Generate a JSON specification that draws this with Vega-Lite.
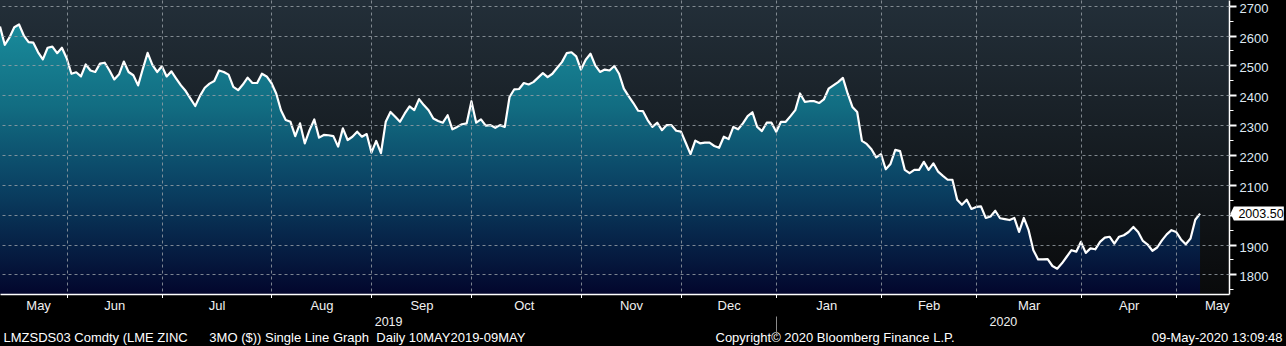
{
"$schema": "https://vega.github.io/schema/vega-lite/v6.json",
"width": 1229, "height": 294,
"autosize": {"type": "none"},
"padding": {"left": 0, "top": 0, "right": 57, "bottom": 52},
"background": "#000000",
"config": {
  "view": {"stroke": null, "fill": {"gradient": "linear", "x1": 0, "y1": 0, "x2": 0, "y2": 1, "stops": [{"offset": 0, "color": "#232f39"}, {"offset": 1, "color": "#090a0b"}]}},
  "font": "Liberation Sans",
  "axis": {"labelFont": "Liberation Sans", "titleFont": "Liberation Sans", "labelFlush": false, "labelOverlap": false, "labelBound": false, "titleFontWeight": "normal"}
},
"data": {"values": [
{"date":"2019-05-10","close":2630},{"date":"2019-05-13","close":2569},{"date":"2019-05-14","close":2594},{"date":"2019-05-15","close":2628},{"date":"2019-05-16","close":2637},{"date":"2019-05-17","close":2600},{"date":"2019-05-20","close":2578},{"date":"2019-05-21","close":2576},{"date":"2019-05-22","close":2544},{"date":"2019-05-23","close":2520},{"date":"2019-05-24","close":2559},{"date":"2019-05-28","close":2563},{"date":"2019-05-29","close":2541},{"date":"2019-05-30","close":2559},{"date":"2019-05-31","close":2524},
{"date":"2019-06-03","close":2472},{"date":"2019-06-04","close":2477},{"date":"2019-06-05","close":2463},{"date":"2019-06-06","close":2503},{"date":"2019-06-07","close":2483},{"date":"2019-06-10","close":2478},{"date":"2019-06-11","close":2506},{"date":"2019-06-12","close":2509},{"date":"2019-06-13","close":2483},{"date":"2019-06-14","close":2453},{"date":"2019-06-17","close":2470},{"date":"2019-06-18","close":2513},{"date":"2019-06-19","close":2478},{"date":"2019-06-20","close":2467},{"date":"2019-06-21","close":2433},{"date":"2019-06-24","close":2489},{"date":"2019-06-25","close":2542},{"date":"2019-06-26","close":2502},{"date":"2019-06-27","close":2478},{"date":"2019-06-28","close":2497},
{"date":"2019-07-01","close":2463},{"date":"2019-07-02","close":2480},{"date":"2019-07-03","close":2456},{"date":"2019-07-04","close":2433},{"date":"2019-07-05","close":2414},{"date":"2019-07-08","close":2389},{"date":"2019-07-09","close":2364},{"date":"2019-07-10","close":2398},{"date":"2019-07-11","close":2425},{"date":"2019-07-12","close":2439},{"date":"2019-07-15","close":2448},{"date":"2019-07-16","close":2483},{"date":"2019-07-17","close":2478},{"date":"2019-07-18","close":2469},{"date":"2019-07-19","close":2428},{"date":"2019-07-22","close":2417},{"date":"2019-07-23","close":2436},{"date":"2019-07-24","close":2459},{"date":"2019-07-25","close":2441},{"date":"2019-07-26","close":2441},{"date":"2019-07-29","close":2472},{"date":"2019-07-30","close":2463},{"date":"2019-07-31","close":2441},
{"date":"2019-08-01","close":2406},{"date":"2019-08-02","close":2350},{"date":"2019-08-05","close":2317},{"date":"2019-08-06","close":2311},{"date":"2019-08-07","close":2263},{"date":"2019-08-08","close":2306},{"date":"2019-08-09","close":2239},{"date":"2019-08-12","close":2283},{"date":"2019-08-13","close":2319},{"date":"2019-08-14","close":2258},{"date":"2019-08-15","close":2267},{"date":"2019-08-16","close":2266},{"date":"2019-08-19","close":2263},{"date":"2019-08-20","close":2228},{"date":"2019-08-21","close":2289},{"date":"2019-08-22","close":2250},{"date":"2019-08-23","close":2261},{"date":"2019-08-27","close":2278},{"date":"2019-08-28","close":2261},{"date":"2019-08-29","close":2270},{"date":"2019-08-30","close":2208},
{"date":"2019-09-02","close":2247},{"date":"2019-09-03","close":2206},{"date":"2019-09-04","close":2311},{"date":"2019-09-05","close":2344},{"date":"2019-09-06","close":2328},{"date":"2019-09-09","close":2311},{"date":"2019-09-10","close":2339},{"date":"2019-09-11","close":2363},{"date":"2019-09-12","close":2350},{"date":"2019-09-13","close":2387},{"date":"2019-09-16","close":2367},{"date":"2019-09-17","close":2350},{"date":"2019-09-18","close":2322},{"date":"2019-09-19","close":2314},{"date":"2019-09-20","close":2308},{"date":"2019-09-23","close":2333},{"date":"2019-09-24","close":2286},{"date":"2019-09-25","close":2294},{"date":"2019-09-26","close":2303},{"date":"2019-09-27","close":2306},{"date":"2019-09-30","close":2380},
{"date":"2019-10-01","close":2308},{"date":"2019-10-02","close":2319},{"date":"2019-10-03","close":2298},{"date":"2019-10-04","close":2300},{"date":"2019-10-07","close":2291},{"date":"2019-10-08","close":2300},{"date":"2019-10-09","close":2294},{"date":"2019-10-10","close":2394},{"date":"2019-10-11","close":2420},{"date":"2019-10-14","close":2421},{"date":"2019-10-15","close":2441},{"date":"2019-10-16","close":2436},{"date":"2019-10-17","close":2444},{"date":"2019-10-18","close":2459},{"date":"2019-10-21","close":2474},{"date":"2019-10-22","close":2461},{"date":"2019-10-23","close":2472},{"date":"2019-10-24","close":2492},{"date":"2019-10-25","close":2511},{"date":"2019-10-28","close":2541},{"date":"2019-10-29","close":2544},{"date":"2019-10-30","close":2530},{"date":"2019-10-31","close":2486},
{"date":"2019-11-01","close":2519},{"date":"2019-11-04","close":2539},{"date":"2019-11-05","close":2500},{"date":"2019-11-06","close":2478},{"date":"2019-11-07","close":2486},{"date":"2019-11-08","close":2483},{"date":"2019-11-11","close":2498},{"date":"2019-11-12","close":2472},{"date":"2019-11-13","close":2422},{"date":"2019-11-14","close":2397},{"date":"2019-11-15","close":2374},{"date":"2019-11-18","close":2348},{"date":"2019-11-19","close":2347},{"date":"2019-11-20","close":2317},{"date":"2019-11-21","close":2294},{"date":"2019-11-22","close":2308},{"date":"2019-11-25","close":2283},{"date":"2019-11-26","close":2300},{"date":"2019-11-27","close":2300},{"date":"2019-11-28","close":2281},{"date":"2019-11-29","close":2278},
{"date":"2019-12-02","close":2241},{"date":"2019-12-03","close":2203},{"date":"2019-12-04","close":2248},{"date":"2019-12-05","close":2239},{"date":"2019-12-06","close":2241},{"date":"2019-12-09","close":2241},{"date":"2019-12-10","close":2230},{"date":"2019-12-11","close":2224},{"date":"2019-12-12","close":2261},{"date":"2019-12-13","close":2253},{"date":"2019-12-16","close":2294},{"date":"2019-12-17","close":2286},{"date":"2019-12-18","close":2306},{"date":"2019-12-19","close":2330},{"date":"2019-12-20","close":2343},{"date":"2019-12-23","close":2294},{"date":"2019-12-24","close":2280},{"date":"2019-12-27","close":2308},{"date":"2019-12-30","close":2308},{"date":"2019-12-31","close":2278},
{"date":"2020-01-02","close":2311},{"date":"2020-01-03","close":2311},{"date":"2020-01-06","close":2330},{"date":"2020-01-07","close":2350},{"date":"2020-01-08","close":2406},{"date":"2020-01-09","close":2378},{"date":"2020-01-10","close":2380},{"date":"2020-01-13","close":2380},{"date":"2020-01-14","close":2374},{"date":"2020-01-15","close":2386},{"date":"2020-01-16","close":2422},{"date":"2020-01-17","close":2433},{"date":"2020-01-20","close":2444},{"date":"2020-01-21","close":2458},{"date":"2020-01-22","close":2406},{"date":"2020-01-23","close":2361},{"date":"2020-01-24","close":2344},{"date":"2020-01-27","close":2247},{"date":"2020-01-28","close":2237},{"date":"2020-01-29","close":2219},{"date":"2020-01-30","close":2192},{"date":"2020-01-31","close":2203},
{"date":"2020-02-03","close":2152},{"date":"2020-02-04","close":2170},{"date":"2020-02-05","close":2217},{"date":"2020-02-06","close":2213},{"date":"2020-02-07","close":2150},{"date":"2020-02-10","close":2139},{"date":"2020-02-11","close":2150},{"date":"2020-02-12","close":2150},{"date":"2020-02-13","close":2177},{"date":"2020-02-14","close":2150},{"date":"2020-02-17","close":2172},{"date":"2020-02-18","close":2144},{"date":"2020-02-19","close":2130},{"date":"2020-02-20","close":2117},{"date":"2020-02-21","close":2117},{"date":"2020-02-24","close":2050},{"date":"2020-02-25","close":2033},{"date":"2020-02-26","close":2050},{"date":"2020-02-27","close":2019},{"date":"2020-02-28","close":2026},
{"date":"2020-03-02","close":2028},{"date":"2020-03-03","close":1989},{"date":"2020-03-04","close":1994},{"date":"2020-03-05","close":2013},{"date":"2020-03-06","close":1988},{"date":"2020-03-09","close":1985},{"date":"2020-03-10","close":1982},{"date":"2020-03-11","close":1989},{"date":"2020-03-12","close":1942},{"date":"2020-03-13","close":1989},{"date":"2020-03-16","close":1948},{"date":"2020-03-17","close":1881},{"date":"2020-03-18","close":1850},{"date":"2020-03-19","close":1850},{"date":"2020-03-20","close":1851},{"date":"2020-03-23","close":1828},{"date":"2020-03-24","close":1819},{"date":"2020-03-25","close":1837},{"date":"2020-03-26","close":1859},{"date":"2020-03-27","close":1881},{"date":"2020-03-30","close":1876},{"date":"2020-03-31","close":1909},
{"date":"2020-04-01","close":1872},{"date":"2020-04-02","close":1887},{"date":"2020-04-03","close":1884},{"date":"2020-04-06","close":1909},{"date":"2020-04-07","close":1923},{"date":"2020-04-08","close":1926},{"date":"2020-04-09","close":1903},{"date":"2020-04-14","close":1926},{"date":"2020-04-15","close":1931},{"date":"2020-04-16","close":1942},{"date":"2020-04-17","close":1959},{"date":"2020-04-20","close":1942},{"date":"2020-04-21","close":1912},{"date":"2020-04-22","close":1900},{"date":"2020-04-23","close":1879},{"date":"2020-04-24","close":1890},{"date":"2020-04-27","close":1914},{"date":"2020-04-28","close":1934},{"date":"2020-04-29","close":1948},{"date":"2020-04-30","close":1942},
{"date":"2020-05-01","close":1917},{"date":"2020-05-04","close":1901},{"date":"2020-05-05","close":1920},{"date":"2020-05-06","close":1983},{"date":"2020-05-07","close":2003.5}
]},
"transform": [
  {"window": [{"op": "row_number", "as": "n"}], "sort": [{"field": "date"}]},
  {"joinaggregate": [{"op": "max", "field": "n", "as": "last"}]}
],
"layer": [
  {
    "mark": {"type": "area", "line": false, "fill": {"gradient": "linear", "x1": 0, "y1": 0, "x2": 0, "y2": 1, "stops": [{"offset": 0, "color": "#198b9b"}, {"offset": 0.3, "color": "#126d82"}, {"offset": 0.6, "color": "#0a4163"}, {"offset": 1, "color": "#03062d"}]}},
    "encoding": {
      "x": {"field": "n", "type": "quantitative", "scale": {"domain": [1, 259.08], "nice": false, "zero": false},
        "axis": {"orient": "bottom", "values": [15, 35, 58, 79, 100, 123, 144, 164, 186, 206, 228, 248], "labels": false, "grid": true, "gridColor": "#9aa1a8", "gridDash": [3, 3], "gridWidth": 1, "gridOpacity": 0.8, "ticks": true, "tickColor": "#ffffff", "tickSize": 3.5, "tickWidth": 1, "domain": true, "domainColor": "#ffffff", "domainWidth": 1.5, "zindex": 1,
          "title": "LMZSDS03 Comdty (LME ZINC\u00a0\u00a0\u00a0\u00a0\u00a0 3MO ($)) Single Line Graph\u00a0 Daily 10MAY2019-09MAY", "titleX": 3, "titleY": 47.7, "titleAlign": "left", "titleBaseline": "alphabetic", "titleFontSize": 13, "titleColor": "#ffffff"}},
      "y": {"field": "close", "type": "quantitative", "scale": {"domain": [1734.2, 2719.1], "nice": false, "zero": false},
        "axis": {"orient": "right", "values": [1800, 1900, 2000, 2100, 2200, 2300, 2400, 2500, 2600, 2700], "labels": false, "ticks": false, "domain": false, "grid": true, "gridColor": "#9aa1a8", "gridDash": [3, 3], "gridWidth": 1, "gridOpacity": 0.8, "zindex": 1, "title": null}},
      "y2": {"datum": 1734.2}
    }
  },
  {
    "mark": {"type": "line", "color": "#ffffff", "strokeWidth": 2.2, "strokeJoin": "round"},
    "encoding": {
      "x": {"field": "n", "type": "quantitative", "scale": {"domain": [1, 259.08], "nice": false, "zero": false},
        "axis": {"orient": "bottom", "values": [9, 25, 46.5, 68.5, 89.5, 111, 133.5, 154, 174.5, 196, 217, 238, 256.5],
          "labelExpr": "['May','Jun','Jul','Aug','Sep','Oct','Nov','Dec','Jan','Feb','Mar','Apr','May'][indexof([9, 25, 46.5, 68.5, 89.5, 111, 133.5, 154, 174.5, 196, 217, 238, 256.5], datum.value)]",
          "grid": false, "ticks": false, "tickSize": 0, "domain": false, "labelPadding": 15, "labelBaseline": "alphabetic", "labelAlign": "center", "labelFontSize": 13, "labelColor": "#f0f0f0",
          "title": "Copyright\u00a9 2020 Bloomberg Finance L.P.", "titleX": 715, "titleY": 47.7, "titleAlign": "left", "titleBaseline": "alphabetic", "titleFontSize": 13, "titleColor": "#ffffff"}},
      "y": {"field": "close", "type": "quantitative", "scale": {"domain": [1734.2, 2719.1], "nice": false, "zero": false},
        "axis": {"orient": "right", "values": [1750, 1800, 1850, 1900, 1950, 2000, 2050, 2100, 2150, 2200, 2250, 2300, 2350, 2400, 2450, 2500, 2550, 2600, 2650, 2700],
          "grid": false, "domain": true, "domainColor": "#ffffff", "domainWidth": 1.5, "ticks": true, "tickColor": "#ffffff",
          "tickSize": {"condition": {"test": "datum.value % 100 === 0", "value": 7}, "value": 4},
          "tickWidth": {"condition": {"test": "datum.value % 100 === 0", "value": 2}, "value": 1},
          "format": "d", "labelExpr": "datum.value % 100 === 0 && datum.value !== 2000 ? datum.label : ''", "labelPadding": 3, "labelOffset": 2.5, "labelBaseline": "middle", "labelFontSize": 13, "labelColor": "#dfe8f2",
          "title": "09-May-2020 13:09:48", "titleAngle": 0, "titleX": 53, "titleY": 341.7, "titleAlign": "right", "titleBaseline": "alphabetic", "titleFontSize": 13, "titleColor": "#ffffff", "zindex": 0}}
    }
  },
  {
    "transform": [{"filter": "datum.n === datum.last"}],
    "mark": {"type": "point", "shape": "M -1 0 L -0.876 -0.263 L 1 -0.263 L 1 0.263 L -0.876 0.263 Z", "filled": true, "fill": "#ffffff", "opacity": 1, "size": 2841, "strokeWidth": 0},
    "encoding": {
      "x": {"datum": 265.0, "type": "quantitative", "scale": {"domain": [1, 259.08], "nice": false, "zero": false},
        "axis": {"orient": "bottom", "values": [82.5, 164, 211.6], "labelExpr": "datum.value === 82.5 ? '2019' : (datum.value === 211.6 ? '2020' : '')", "offset": 22, "domain": false, "grid": false, "ticks": true, "tickSize": 20, "tickColor": "#8a8a8a", "tickWidth": 1,
          "tickOpacity": {"condition": {"test": "datum.value === 164", "value": 1}, "value": 0},
          "labelPadding": -11, "labelBaseline": "alphabetic", "labelAlign": "center", "labelFontSize": 12.5, "labelColor": "#f0f0f0", "title": null}},
      "y": {"field": "close", "type": "quantitative", "scale": {"domain": [1734.2, 2719.1], "nice": false, "zero": false}, "axis": null}
    }
  },
  {
    "transform": [{"filter": "datum.n === datum.last"}],
    "mark": {"type": "text", "font": "Liberation Sans", "fontSize": 12.5, "color": "#000000", "align": "center", "baseline": "middle"},
    "encoding": {
      "x": {"datum": 265.8, "type": "quantitative", "scale": {"domain": [1, 259.08], "nice": false, "zero": false}, "axis": null},
      "y": {"field": "close", "type": "quantitative", "scale": {"domain": [1734.2, 2719.1], "nice": false, "zero": false}, "axis": null},
      "text": {"field": "close", "type": "quantitative", "format": ".2f"}
    }
  }
],
"resolve": {"axis": {"x": "independent", "y": "independent"}}
}
